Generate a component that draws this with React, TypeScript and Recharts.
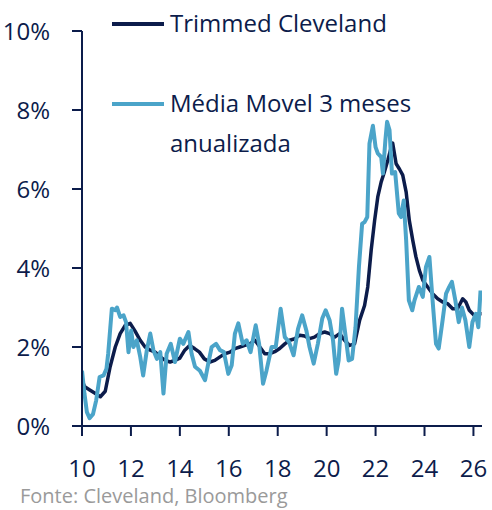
import { LineChart, Line, XAxis, YAxis, Legend } from 'recharts';

const NAVY = '#0c1c4b';
const LIGHT = '#4ba4c9';
const FONT = '"Open Sans", sans-serif';

const yearTicks = [2010, 2012, 2014, 2016, 2018, 2020, 2022, 2024, 2026];
const pctTicks = [0, 2, 4, 6, 8, 10];

const trimmedName = 'Trimmed Cleveland';
const mediaName = 'Média Movel 3 meses anualizada';

// Trimmed Cleveland (decimal year, % a.a.)
const trimmedDates = [
  2010.0, 2010.1, 2010.3, 2010.5, 2010.75, 2010.95, 2011.15, 2011.36, 2011.56, 2011.77,
  2011.97, 2012.17, 2012.38, 2012.58, 2012.79, 2012.99, 2013.2, 2013.4, 2013.6, 2013.8,
  2014.0, 2014.2, 2014.4, 2014.6, 2014.8, 2015.0, 2015.23, 2015.43, 2015.64, 2015.84,
  2016.05, 2016.25, 2016.45, 2016.66, 2016.86, 2017.07, 2017.27, 2017.47, 2017.68, 2017.88,
  2018.08, 2018.29, 2018.49, 2018.7, 2018.9, 2019.1, 2019.3, 2019.5, 2019.71, 2019.92,
  2020.12, 2020.33, 2020.53, 2020.73, 2020.94, 2021.14, 2021.35, 2021.55, 2021.68, 2021.82,
  2021.96, 2022.09, 2022.23, 2022.36, 2022.5, 2022.64, 2022.7, 2022.84, 2022.98, 2023.11,
  2023.25, 2023.38, 2023.52, 2023.65, 2023.79, 2023.93, 2024.13, 2024.33, 2024.54, 2024.74,
  2024.94, 2025.15, 2025.35, 2025.56, 2025.69, 2025.83, 2026.03, 2026.24, 2026.33,
];
const trimmedValues = [
  1.16, 1.0, 0.92, 0.84, 0.74, 0.88, 1.5, 2.0, 2.34, 2.55,
  2.6, 2.4, 2.17, 2.0, 1.92, 1.87, 1.75, 1.66, 1.62, 1.66,
  1.72, 1.92, 2.04, 1.96, 1.87, 1.7, 1.62, 1.66, 1.75, 1.83,
  1.87, 1.96, 2.0, 2.04, 2.08, 2.17, 2.0, 1.83, 1.83, 1.88,
  1.96, 2.08, 2.17, 2.21, 2.3, 2.28, 2.21, 2.25, 2.34, 2.38,
  2.34, 2.25, 2.34, 2.17, 2.04, 2.08, 2.68, 3.05, 3.52, 4.45,
  5.2, 5.8, 6.18, 6.43, 6.73, 7.06, 7.16, 6.64, 6.5, 6.35,
  5.92, 5.2, 4.7, 4.28, 3.94, 3.69, 3.52, 3.35, 3.22, 3.14,
  3.1, 2.97, 2.97, 3.22, 3.14, 2.93, 2.8, 2.84, 2.84,
];

// Média móvel 3 meses anualizada
const mediaDates = [
  2010.0, 2010.1, 2010.2, 2010.31, 2010.45, 2010.58, 2010.72, 2010.88, 2011.0, 2011.07,
  2011.22, 2011.36, 2011.43, 2011.56, 2011.7, 2011.8, 2011.9, 2012.01, 2012.1, 2012.24,
  2012.38, 2012.5, 2012.65, 2012.79, 2012.92, 2013.06, 2013.2, 2013.33, 2013.46, 2013.63,
  2013.8, 2014.0, 2014.14, 2014.35, 2014.48, 2014.62, 2014.82, 2015.03, 2015.16, 2015.3,
  2015.48, 2015.64, 2015.8, 2015.98, 2016.12, 2016.25, 2016.39, 2016.57, 2016.73, 2016.89,
  2017.1, 2017.24, 2017.4, 2017.54, 2017.75, 2017.92, 2018.12, 2018.29, 2018.46, 2018.65,
  2018.83, 2019.0, 2019.17, 2019.3, 2019.47, 2019.64, 2019.82, 2019.96, 2020.12, 2020.26,
  2020.39, 2020.49, 2020.63, 2020.78, 2020.9, 2021.04, 2021.18, 2021.32, 2021.45, 2021.55,
  2021.66, 2021.75, 2021.89, 2022.0, 2022.09, 2022.23, 2022.3, 2022.4, 2022.47, 2022.57,
  2022.67, 2022.8, 2022.95, 2023.04, 2023.15, 2023.25, 2023.36, 2023.5, 2023.59, 2023.77,
  2023.93, 2024.06, 2024.2, 2024.33, 2024.47, 2024.58, 2024.74, 2024.88, 2025.01, 2025.12,
  2025.26, 2025.4, 2025.53, 2025.67, 2025.83, 2025.96, 2026.1, 2026.2, 2026.29,
];
const mediaValues = [
  1.4, 0.82, 0.35, 0.2, 0.3, 0.65, 1.24, 1.28, 1.45, 1.83,
  2.97, 2.93, 3.0, 2.76, 2.8, 2.63, 1.87, 2.42, 2.0, 2.17,
  1.75, 1.28, 1.92, 2.34, 1.92, 1.7, 1.87, 0.82, 1.83, 2.08,
  1.62, 2.21, 2.08, 2.38, 1.83, 1.5, 1.4, 1.16, 1.58, 2.0,
  2.08, 1.92, 1.87, 1.32, 1.54, 2.34, 2.6, 2.08, 2.17, 1.87,
  2.55, 2.08, 1.07, 1.4, 2.0, 2.0, 2.97, 2.25, 2.13, 1.79,
  2.46, 2.8, 2.42, 2.0, 1.58, 2.08, 2.72, 2.93, 2.68, 2.17,
  1.32, 1.66, 2.97, 2.25, 1.66, 1.7, 2.5, 4.03, 5.12, 5.16,
  5.29, 7.15, 7.6, 7.06, 6.9, 6.81, 6.39, 7.23, 7.7, 7.49,
  6.39, 6.43, 5.38, 5.29, 5.71, 4.7, 3.18, 2.93, 3.18, 3.52,
  3.27, 4.03, 4.28, 3.18, 2.08, 1.96, 2.68, 3.35, 3.52, 3.65,
  3.18, 2.63, 3.0, 2.68, 2.0, 2.63, 2.84, 2.5, 3.43,
];

const trimmedData = trimmedDates.map((x, i) => ({ x, v: trimmedValues[i] }));
const mediaData = mediaDates.map((x, i) => ({ x, v: mediaValues[i] }));

// break long legend labels like the original (max ~20 chars per line)
const wrap = (text: string, max = 20) => {
  const lines: string[] = [];
  let cur = '';
  text.split(' ').forEach((w) => {
    const next = cur ? `${cur} ${w}` : w;
    if (next.length > max && cur) {
      lines.push(cur);
      cur = w;
    } else {
      cur = next;
    }
  });
  if (cur) lines.push(cur);
  return lines;
};

// legend sample line y for each series
const legendRowY: Record<string, number> = { [trimmedName]: 24, [mediaName]: 104 };

const renderLegend = (props: any) => {
  const payload = props.payload || [];
  return (
    <svg width={492} height={170} style={{ fontFamily: FONT }}>
      {payload.map((entry: any) => {
        const y = legendRowY[entry.value] ?? 24;
        return (
          <g key={entry.value}>
            <line x1={112} x2={164} y1={y} y2={y} stroke={entry.color} strokeWidth={4} />
            {wrap(String(entry.value)).map((t, j) => (
              <text key={t} x={170} y={y + 8 + j * 40} fill={NAVY} fontSize={24}>
                {t}
              </text>
            ))}
          </g>
        );
      })}
    </svg>
  );
};

export default function App() {
  return (
    <div style={{ position: 'absolute', top: 0, left: 0, width: 492, height: 510, background: '#fff' }}>
      <LineChart
        width={492}
        height={510}
        margin={{ top: 31, right: 10, bottom: 24, left: 0 }}
        style={{ fontFamily: FONT }}
      >
        <XAxis
          type="number"
          dataKey="x"
          domain={[2010, 2026.35]}
          ticks={yearTicks}
          interval={0}
          allowDataOverflow
          tickFormatter={(v: number) => String(v).slice(2)}
          height={60}
          tickSize={10}
          tickMargin={24}
          axisLine={{ stroke: NAVY, strokeWidth: 2 }}
          tickLine={{ stroke: NAVY, strokeWidth: 2 }}
          tick={{ fill: NAVY, fontSize: 24 }}
        />
        <YAxis
          type="number"
          domain={[0, 10]}
          ticks={pctTicks}
          interval={0}
          width={82}
          tickFormatter={(v: number) => `${v}%`}
          tickSize={10}
          tickMargin={22}
          axisLine={{ stroke: NAVY, strokeWidth: 2 }}
          tickLine={{ stroke: NAVY, strokeWidth: 2 }}
          tick={{ fill: NAVY, fontSize: 24 }}
        />
        <Legend
          layout="vertical"
          align="center"
          verticalAlign="middle"
          content={renderLegend}
          wrapperStyle={{ top: 0, left: 0, width: 492, height: 170 }}
        />
        <Line
          name={trimmedName}
          data={trimmedData}
          dataKey="v"
          type="linear"
          stroke={NAVY}
          strokeWidth={3.5}
          strokeLinejoin="round"
          dot={false}
          activeDot={false}
          isAnimationActive={false}
        />
        <Line
          name={mediaName}
          data={mediaData}
          dataKey="v"
          type="linear"
          stroke={LIGHT}
          strokeWidth={4}
          strokeLinejoin="round"
          dot={false}
          activeDot={false}
          isAnimationActive={false}
        />
      </LineChart>
      <svg
        width={492}
        height={510}
        style={{ position: 'absolute', top: 0, left: 0, pointerEvents: 'none', fontFamily: FONT }}
      >
        <text x={20} y={503} fill="#9a9a9a" fontSize={20}>
          Fonte: Cleveland, Bloomberg
        </text>
      </svg>
    </div>
  );
}
